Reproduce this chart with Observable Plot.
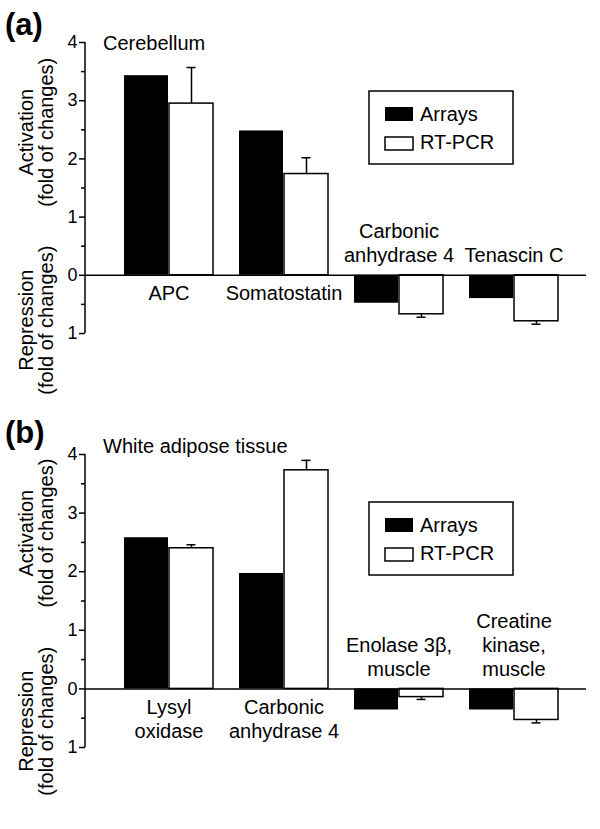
<!DOCTYPE html>
<html>
<head>
<meta charset="utf-8">
<script src="https://cdn.jsdelivr.net/npm/d3@7"></script>
<script src="https://cdn.jsdelivr.net/npm/@observablehq/plot@0.6"></script>
<style>
  body { margin: 0; background: #fff; font-family: "Liberation Sans", Arial, Helvetica, sans-serif; }
  #chart svg { display: block; }
</style>
</head>
<body>
<div id="chart"></div>
<script>
// ---- data ----
const genesA  = ["APC", "Somatostatin", "Carbonic anhydrase 4", "Tenascin C"];
const labelsA = ["APC", "Somatostatin", "Carbonic\nanhydrase 4", "Tenascin C"];
const arraysA = [3.43, 2.48, -0.48, -0.40];
const rtpcrA  = [2.95, 1.74, -0.67, -0.79];
const errA    = [0.62, 0.28, 0.05, 0.05];

const genesB  = ["Lysyl oxidase", "Carbonic anhydrase 4", "Enolase 3β, muscle", "Creatine kinase, muscle"];
const labelsB = ["Lysyl\noxidase", "Carbonic\nanhydrase 4", "Enolase 3β,\nmuscle", "Creatine\nkinase,\nmuscle"];
const arraysB = [2.58, 1.97, -0.36, -0.36];
const rtpcrB  = [2.40, 3.73, -0.14, -0.53];
const errB    = [0.06, 0.17, 0.04, 0.05];

const seriesNames = ["Arrays", "RT-PCR"];
const majorTicks = [-1, 0, 1, 2, 3, 4];
const minorTicks = [-0.5, 0.5, 1.5, 2.5, 3.5];
const yLabelsAct = ["Activation", "(fold of changes)"];
const yLabelsRep = ["Repression", "(fold of changes)"];

const FONT = '"Liberation Sans", Arial, Helvetica, sans-serif';

function panel(cfg) {
  const rows = cfg.genes.map((g, i) => ({
    gene: g, label: cfg.labels[i], arrays: cfg.arrays[i], rt: cfg.rtpcr[i],
    end: cfg.rtpcr[i] + Math.sign(cfg.rtpcr[i]) * cfg.err[i]
  }));
  const pos = rows.filter(d => d.arrays > 0);
  const neg = rows.filter(d => d.arrays < 0);

  const plot = Plot.plot({
    width: 600, height: cfg.height,
    marginTop: cfg.marginTop, marginBottom: cfg.marginBottom, marginLeft: 85, marginRight: 14,
    style: {fontFamily: FONT, fontSize: "20px", color: "black", background: "white"},
    x: {domain: cfg.genes, paddingInner: 0.224, paddingOuter: 0.2715, align: 0.587, axis: null},
    y: {domain: [-1, 4]},
    marks: [
      Plot.barY(rows, {x: "gene", y: "arrays", fill: "black", insetRight: 45}),
      Plot.barY(rows, {x: "gene", y: "rt", fill: "white", stroke: "black", strokeWidth: 1.5, insetLeft: 45}),
      Plot.ruleX(rows, {x: "gene", y1: "rt", y2: "end", dx: 22.5, stroke: "black", strokeWidth: 1.5}),
      Plot.tickY(rows, {x: "gene", y: "end", insetLeft: 62.5, insetRight: 17.5, stroke: "black", strokeWidth: 1.5}),
      Plot.ruleY([0], {stroke: "black", strokeWidth: 1.5}),
      Plot.axisY({ticks: majorTicks, tickFormat: d => String(Math.abs(d)), tickSize: 6, tickPadding: 2,
                  fontSize: 18, strokeWidth: 1.5, label: null}),
      Plot.axisY({ticks: minorTicks, tickFormat: () => "", tickSize: 4, strokeWidth: 1.5, label: null}),
      Plot.text(pos, {x: "gene", y: d => 0, text: "label", lineAnchor: "top", dy: 8, lineHeight: 1.2, fontSize: 20}),
      Plot.text(neg, {x: "gene", y: d => 0, text: "label", lineAnchor: "bottom", dy: -13, lineHeight: 1.2, fontSize: 20})
    ]
  });

  const svg = d3.select(plot);
  const y = v => plot.scale("y").apply(v);
  const L = 85;

  // axis line
  svg.append("line").attr("x1", L).attr("x2", L).attr("y1", y(4)).attr("y2", y(-1))
    .attr("stroke", "black").attr("stroke-width", 1.5);

  const txt = (x, yy, s, size, weight) => svg.append("text")
    .attr("x", x).attr("y", yy).text(s)
    .attr("text-anchor", "start").attr("font-size", size).attr("font-weight", weight || "normal")
    .attr("font-family", FONT).attr("fill", "black");

  // panel tag
  txt(5, cfg.tagY, cfg.tag, 31, "bold");
  // title
  txt(103, cfg.titleY, cfg.title, 20);

  // rotated y-axis labels
  const lab = (lines, v) => {
    lines.forEach((t, i) => {
      svg.append("text")
        .attr("transform", `translate(${[33, 53][i]},${y(v)}) rotate(-90)`)
        .attr("text-anchor", "middle").attr("font-size", 20).attr("font-family", FONT)
        .attr("fill", "black").text(t);
    });
  };
  lab(yLabelsAct, cfg.actY);
  lab(yLabelsRep, cfg.repY);

  // legend
  const T = cfg.legendTop;
  const g = svg.append("g");
  g.append("rect").attr("x", 369).attr("y", T).attr("width", 144).attr("height", 73)
    .attr("fill", "white").attr("stroke", "black").attr("stroke-width", 1.5);
  g.append("rect").attr("x", 385).attr("y", T + 16).attr("width", 28).attr("height", 14).attr("fill", "black");
  g.append("rect").attr("x", 385).attr("y", T + 46).attr("width", 28).attr("height", 13)
    .attr("fill", "white").attr("stroke", "black").attr("stroke-width", 1.5);
  seriesNames.forEach((s, i) => {
    g.append("text").attr("x", 420).attr("y", T + 30 + i * 28).text(s)
      .attr("text-anchor", "start").attr("font-size", 20).attr("font-family", FONT).attr("fill", "black");
  });

  return plot;
}

const chart = document.getElementById("chart");
chart.append(panel({
  tag: "(a)", title: "Cerebellum", genes: genesA, labels: labelsA, arrays: arraysA, rtpcr: rtpcrA, err: errA,
  height: 410, marginTop: 42, marginBottom: 77, tagY: 35, titleY: 50, actY: 2.45, repY: -0.78, legendTop: 91
}));
chart.append(panel({
  tag: "(b)", title: "White adipose tissue", genes: genesB, labels: labelsB, arrays: arraysB, rtpcr: rtpcrB, err: errB,
  height: 419, marginTop: 44, marginBottom: 82, tagY: 33, titleY: 43, actY: 2.65, repY: -0.56, legendTop: 92
}));
</script>
</body>
</html>
